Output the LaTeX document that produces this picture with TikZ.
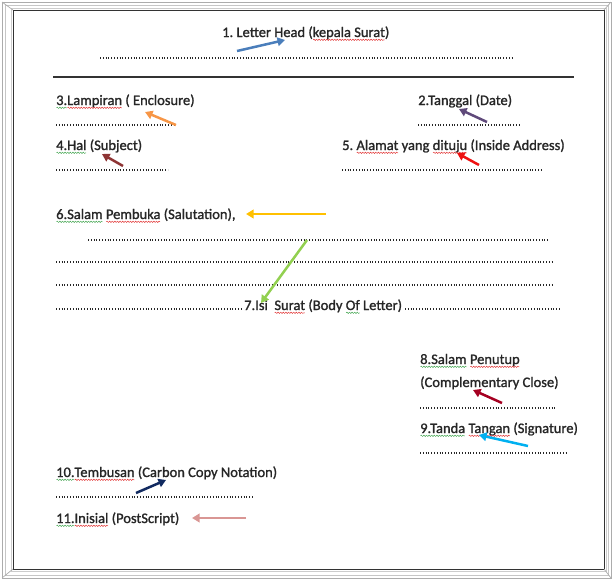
\documentclass[tikz,border=0pt]{standalone}
\usepackage{fontspec}
\setmainfont{Carlito}[RawFeature={embolden=1.3}]
\usetikzlibrary{arrows.meta,decorations.pathmorphing}
\frenchspacing
\definecolor{txt}{HTML}{262626}
\definecolor{wgreen}{HTML}{3FA34D}
\definecolor{wred}{HTML}{E03030}
\definecolor{cblue}{HTML}{4A7EBB}
\definecolor{corange}{HTML}{F79646}
\definecolor{cpurple}{HTML}{5F497A}
\definecolor{cdarkred}{HTML}{8E3434}
\definecolor{cred}{HTML}{EE1111}
\definecolor{cyellow}{HTML}{FFC000}
\definecolor{cgreen}{HTML}{92D050}
\definecolor{ccrimson}{HTML}{A50021}
\definecolor{ccyan}{HTML}{00B0F0}
\definecolor{cnavy}{HTML}{112A60}
\definecolor{cpink}{HTML}{D99694}
\newcommand\sq[2]{\tikz[baseline=(wv.base)]{\node[inner sep=0pt,outer sep=0pt,anchor=base west] (wv) at (0,0) {#2};
  \draw[#1, line width=0.45pt, decorate, decoration={snake, segment length=2.6pt, amplitude=0.7pt}]
  ([yshift=-2.8pt,xshift=0.3pt]wv.base west) -- ([yshift=-2.8pt,xshift=-0.3pt]wv.base east);}}
\newcommand\gw[1]{\sq{wgreen}{#1}}
\newcommand\rw[1]{\sq{wred}{#1}}
\begin{document}
\begin{tikzpicture}[x=1pt,y=-1pt,
  font=\fontsize{14.5}{17}\selectfont\frenchspacing,
  lbl/.style={anchor=base west, inner sep=0pt, text=txt},
  dots/.style={draw=txt, line width=1.1pt, dash pattern=on 1pt off 1.8pt},
  arr/.style={line width=2.5pt, -{Triangle[length=7.5pt,width=8.5pt]}}]
\useasboundingbox (0,0) rectangle (615,581);
% frame
\draw[gray!65, line width=0.8pt] (2,2) rectangle (611,578);
\draw[gray!45, line width=0.6pt] (5,5) rectangle (608,575);
\draw[black!80, line width=1pt] (13,10) rectangle (604,569);
\draw[gray!40, line width=0.6pt] (11,8) rectangle (606,571);
\draw[gray!65, line width=0.7pt] (2,2) -- (13,10) (611,2) -- (604,10)
  (2,578) -- (13,569) (611,578) -- (604,569);
% rule
\draw[black!80, line width=2pt] (53,77) -- (574,77);
% labels
\node[lbl] (t1) at (222,37) {1. Letter Head (\rw{kepala Surat})};
\node[lbl] (t3) at (56,105) {\gw{3.}\rw{Lampiran} ( Enclosure)};
\node[lbl] (t2) at (418,105) {2.Tanggal (Date)};
\node[lbl] (t4) at (56,150) {\gw{4.Hal} (Subject)};
\node[lbl] (t5) at (342,150) {5. \rw{Alamat} yang \rw{dituju} (Inside Address)};
\node[lbl] (t6) at (56,219) {\gw{6.Salam} \rw{Pembuka} (Salutation),};
\node[lbl] (t7) at (244,310) {7.Isi\ \ \rw{Surat} (Body \gw{Of} Letter)};
\node[lbl] (t8) at (420,364) {\gw{8.Salam} \rw{Penutup}};
\node[lbl] (t8b) at (420,387) {(Complementary Close)};
\node[lbl] (t9) at (420,433) {\gw{9.Tanda} \rw{Tangan} (Signature)};
\node[lbl] (t10) at (56,477) {\gw{10.}\rw{Tembusan} (Carbon Copy Notation)};
\node[lbl] (t11) at (56,523) {\gw{11.}\rw{Inisial} (PostScript)};
% dotted lines
\draw[dots] (100,58) -- (512,58);
\draw[dots] (56,125) -- (176,125);
\draw[dots] (418,125) -- (520,125);
\draw[dots] (56,170) -- (168,170);
\draw[dots] (342,170) -- (543,170);
\draw[dots] (88,240) -- (549,240);
\draw[dots] (56,262) -- (554,262);
\draw[dots] (56,285) -- (554,285);
\draw[dots] (56,309) -- (243,309);
\draw[dots] (405,309) -- (561,309);
\draw[dots] (420,408) -- (557,408);
\draw[dots] (420,453) -- (568,453);
\draw[dots] (56,497) -- (254,497);
% arrows
\coordinate (a1s) at (237,51); \coordinate (a1e) at (285,40);
\coordinate (a3s) at (176,125); \coordinate (a3e) at (145,112);
\coordinate (a2s) at (487,122); \coordinate (a2e) at (459,109);
\coordinate (a4s) at (123,166); \coordinate (a4e) at (102,154);
\coordinate (a5s) at (479,165); \coordinate (a5e) at (457,153);
\coordinate (a6s) at (326,214); \coordinate (a6e) at (246,214);
\coordinate (a7s) at (307,240); \coordinate (a7e) at (261,303);
\coordinate (a8s) at (502,403); \coordinate (a8e) at (473,390);
\coordinate (a9s) at (528,446); \coordinate (a9e) at (479,435);
\coordinate (a10s) at (136,493); \coordinate (a10e) at (166,480);
\coordinate (a11s) at (246,518); \coordinate (a11e) at (192,518);
\draw[arr, cblue] (a1s) -- (a1e);
\draw[arr, corange] (a3s) -- (a3e);
\draw[arr, cpurple] (a2s) -- (a2e);
\draw[arr, cdarkred] (a4s) -- (a4e);
\draw[arr, cred] (a5s) -- (a5e);
\draw[arr, cyellow] (a6s) -- (a6e);
\draw[arr, cgreen] (a7s) -- (a7e);
\draw[arr, ccrimson] (a8s) -- (a8e);
\draw[arr, ccyan] (a9s) -- (a9e);
\draw[arr, cnavy] (a10s) -- (a10e);
\draw[arr, cpink] (a11s) -- (a11e);
\end{tikzpicture}
\end{document}
